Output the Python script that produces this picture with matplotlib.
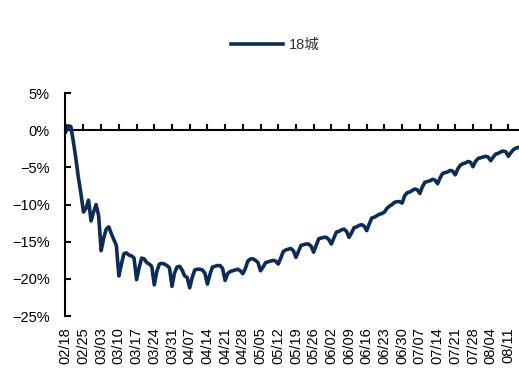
import pandas as pd
import matplotlib
matplotlib.use('Agg')
import matplotlib.pyplot as plt

plt.rcParams['font.family'] = ['Liberation Sans', 'Noto Sans CJK SC', 'DejaVu Sans']

# daily values (%) from 02/18
week_vals = [
    [-0.2, 0.6, 0.5, -1.5, -3.8, -6.4, -8.5],
    [-11.0, -10.5, -9.4, -12.2, -11.0, -10.0, -11.5],
    [-16.2, -14.5, -13.3, -13.0, -13.9, -14.7, -15.5],
    [-19.6, -18.0, -16.6, -16.5, -16.8, -16.9, -17.2],
    [-20.1, -18.5, -17.2, -17.3, -17.8, -18.0, -18.3],
    [-20.8, -19.0, -18.0, -17.9, -18.0, -18.2, -18.5],
    [-21.0, -19.2, -18.4, -18.3, -18.8, -19.6, -19.8],
    [-21.2, -19.8, -18.8, -18.7, -18.7, -18.8, -19.2],
    [-20.7, -19.4, -18.4, -18.3, -18.2, -18.2, -18.6],
    [-20.2, -19.3, -19.0, -18.9, -18.8, -18.7, -18.9],
    [-19.3, -18.6, -17.6, -17.3, -17.3, -17.5, -17.8],
    [-18.9, -18.4, -17.8, -17.7, -17.6, -17.5, -17.6],
    [-18.0, -17.2, -16.3, -16.1, -16.0, -15.9, -16.2],
    [-17.1, -16.3, -15.5, -15.4, -15.3, -15.3, -15.6],
    [-16.4, -15.5, -14.6, -14.5, -14.4, -14.4, -14.7],
    [-15.3, -14.5, -13.7, -13.6, -13.4, -13.3, -13.6],
    [-14.4, -13.8, -13.1, -13.0, -12.8, -12.7, -12.9],
    [-13.5, -12.6, -11.8, -11.7, -11.5, -11.3, -11.2],
    [-11.0, -10.5, -10.2, -10.0, -9.7, -9.6, -9.6],
    [-9.8, -8.8, -8.4, -8.3, -8.1, -7.9, -8.0],
    [-8.5, -7.6, -7.0, -6.9, -6.8, -6.6, -6.7],
    [-7.2, -6.4, -5.8, -5.7, -5.6, -5.4, -5.5],
    [-6.0, -5.2, -4.7, -4.5, -4.4, -4.2, -4.3],
    [-4.9, -4.2, -3.8, -3.7, -3.6, -3.5, -3.6],
    [-4.1, -3.6, -3.2, -3.1, -2.9, -2.8, -2.9],
    [-3.5, -3.0, -2.6, -2.4, -2.3],
]
values = [v for w in week_vals for v in w]
dates = pd.date_range('2020-02-18', periods=len(values), freq='D')
series_name = '18城'

y_ticks = [5, 0, -5, -10, -15, -20, -25]
y_labels = ['5%', '0%', '\u22125%', '\u221210%', '\u221215%', '\u221220%', '\u221225%']

line_color = '#0d2b57'

fig = plt.figure(figsize=(5.19, 3.71), dpi=100)
ax = fig.add_axes([65 / 519, 0.148, 1 - 65 / 519, 0.601])

x = list(range(len(values)))
ax.plot(x, values, color=line_color, linewidth=2.6, label=series_name,
        solid_joinstyle='round')

ax.set_ylim(-25, 5)
ax.set_xlim(-0.3, 179.2)
ax.set_yticks(y_ticks)
ax.set_yticklabels(y_labels)

tick_pos = x[::7]
tick_lab = [d.strftime('%m/%d') for d in dates[::7]]
ax.set_xticks(tick_pos)
ax.set_xticklabels(tick_lab, rotation=90)

for s in ['top', 'right', 'bottom']:
    ax.spines[s].set_visible(False)
ax.spines['left'].set_linewidth(1.5)
ax.tick_params(axis='y', direction='in', length=4, width=1.5, pad=11, labelsize=10.5, colors='black')
ax.tick_params(axis='x', length=0, pad=8, labelsize=10.5)

# zero line with upward ticks
zero_frac = (0 - (-25)) / (5 - (-25))
sec = ax.secondary_xaxis(zero_frac)
sec.set_xticks(tick_pos)
sec.tick_params(axis='x', direction='out', length=4, width=1.5, labeltop=False, labelbottom=False)
sec.spines['top'].set_linewidth(1.5)

ax.legend(loc='center', bbox_to_anchor=(0.53, 0.879), bbox_transform=fig.transFigure,
          frameon=False, fontsize=10.5, handlelength=3.6, handletextpad=0.35,
          labelcolor='#333333')

plt.savefig('out.png', dpi=100)
plt.close()
